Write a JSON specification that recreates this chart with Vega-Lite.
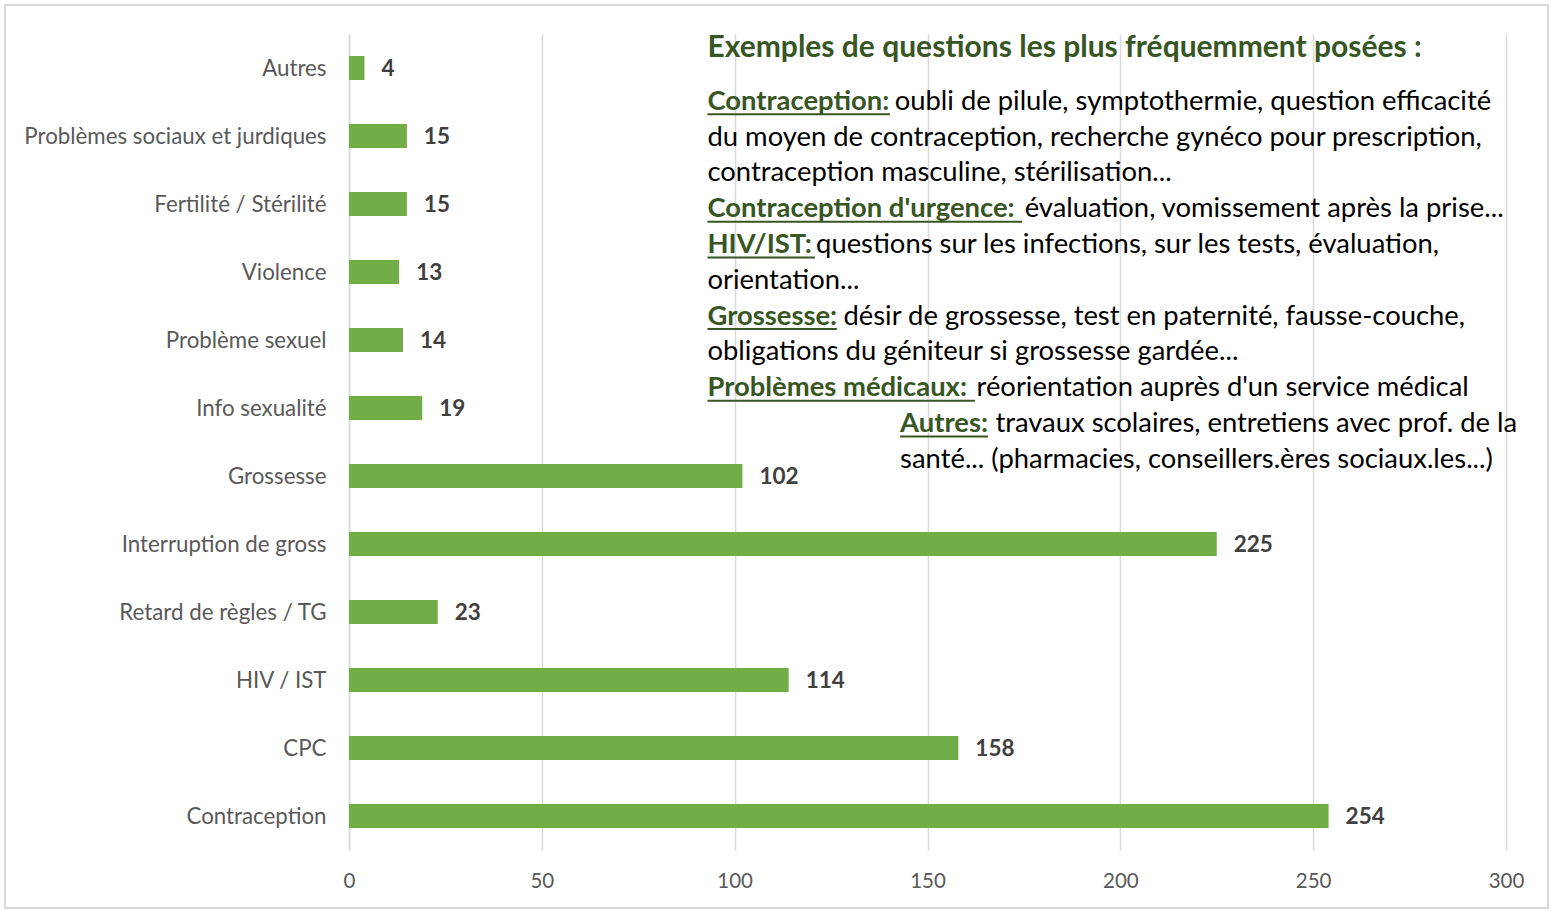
{
  "$schema": "https://vega.github.io/schema/vega-lite/v6.json",
  "width": 1157,
  "height": 816,
  "autosize": {"type": "none"},
  "padding": {"left": 349, "top": 34, "right": 45, "bottom": 61},
  "background": "white",
  "config": {"view": {"stroke": null}, "font": "Lato"},
  "datasets": {
    "bars": [
      {"cat": "Autres", "n": 4},
      {"cat": "Problèmes sociaux et jurdiques", "n": 15},
      {"cat": "Fertilité / Stérilité\u2002", "n": 15},
      {"cat": "Violence", "n": 13},
      {"cat": "Problème sexuel", "n": 14},
      {"cat": "Info sexualité", "n": 19},
      {"cat": "Grossesse", "n": 102},
      {"cat": "Interruption de gross", "n": 225},
      {"cat": "Retard de règles / TG", "n": 23},
      {"cat": "HIV / IST", "n": 114},
      {"cat": "CPC", "n": 158},
      {"cat": "Contraception", "n": 254}
    ],
    "notes": [
      {"row": 0, "x": 92.95, "kind": "title", "text": "Exemples de questions les plus fréquemment posées :"},
      {"row": 1.5, "x": 92.95, "kind": "bold", "text": "Contraception:"},
      {"row": 1.5, "x": 141.5, "kind": "normal", "text": "oubli de pilule, symptothermie, question efficacité"},
      {"row": 2.5, "x": 92.95, "kind": "normal", "text": "du moyen de contraception, recherche gynéco pour prescription,"},
      {"row": 3.5, "x": 92.95, "kind": "normal", "text": "contraception masculine, stérilisation..."},
      {"row": 4.5, "x": 92.95, "kind": "bold", "text": "Contraception d'urgence:"},
      {"row": 4.5, "x": 175.2, "kind": "normal", "text": "évaluation, vomissement après la prise..."},
      {"row": 5.5, "x": 92.95, "kind": "bold", "text": "HIV/IST:"},
      {"row": 5.5, "x": 121.1, "kind": "normal", "text": "questions sur les infections, sur les tests, évaluation,"},
      {"row": 6.5, "x": 92.95, "kind": "normal", "text": "orientation..."},
      {"row": 7.5, "x": 92.95, "kind": "bold", "text": "Grossesse:"},
      {"row": 7.5, "x": 128.2, "kind": "normal", "text": "désir de grossesse, test en paternité, fausse-couche,"},
      {"row": 8.5, "x": 92.95, "kind": "normal", "text": "obligations du géniteur si grossesse gardée..."},
      {"row": 9.5, "x": 92.95, "kind": "bold", "text": "Problèmes médicaux:"},
      {"row": 9.5, "x": 162.7, "kind": "normal", "text": "réorientation auprès d'un service médical"},
      {"row": 10.5, "x": 142.9, "kind": "bold", "text": "Autres:"},
      {"row": 10.5, "x": 167.6, "kind": "normal", "text": "travaux scolaires, entretiens avec prof. de la"},
      {"row": 11.5, "x": 142.9, "kind": "normal", "text": "santé... (pharmacies, conseillers.ères sociaux.les...)"}
    ],
    "underlines": [
      {"row": 1.85, "x": 92.95, "x2": 140.3},
      {"row": 4.85, "x": 92.95, "x2": 174.5},
      {"row": 5.85, "x": 92.95, "x2": 120.8},
      {"row": 7.85, "x": 92.95, "x2": 126.5},
      {"row": 9.85, "x": 92.95, "x2": 162.3},
      {"row": 10.85, "x": 142.9, "x2": 165.7}
    ],
    "frame": [
      {"x": -89.2, "x2": 310.9, "row": -1.2, "row2": 24.02}
    ]
  },
  "layer": [
    {
      "data": {"name": "bars"},
      "mark": {"type": "bar", "color": "#70AD47"},
      "encoding": {
        "y": {
          "field": "cat", "type": "nominal", "sort": null,
          "scale": {"paddingInner": 0.647, "paddingOuter": 0.3235},
          "axis": {
            "title": null, "domain": true, "domainColor": "#d9d9d9", "domainWidth": 1.5,
            "ticks": false, "grid": false, "labelFontSize": 22.3, "labelColor": "#595959",
            "labelPadding": 23, "labelLimit": 500, "labelOffset": 1
          }
        },
        "x": {
          "field": "n", "type": "quantitative", "title": null,
          "scale": {"domain": [0, 300], "nice": false},
          "axis": {
            "values": [0, 50, 100, 150, 200, 250, 300],
            "title": null, "grid": true, "gridColor": "#d9d9d9", "gridWidth": 1.5,
            "domain": false, "ticks": false, "labelFontSize": 20.5, "labelColor": "#595959",
            "labelPadding": 21, "labelFlush": false
          }
        }
      }
    },
    {
      "data": {"name": "bars"},
      "mark": {"type": "text", "align": "left", "baseline": "middle", "dx": 17, "dy": 1, "fontWeight": "bold", "fontSize": 22.5, "color": "#404040"},
      "encoding": {
        "y": {"field": "cat", "type": "nominal", "sort": null, "scale": {"paddingInner": 0.647, "paddingOuter": 0.3235}, "axis": null},
        "x": {"field": "n", "type": "quantitative", "title": null},
        "text": {"field": "n", "type": "quantitative"}
      }
    },
    {
      "data": {"name": "frame"},
      "mark": {"type": "rect", "fill": null, "stroke": "#d9d9d9", "strokeWidth": 2},
      "encoding": {
        "y": {"field": "row", "type": "quantitative", "scale": {"domain": [-0.391, 22.4], "reverse": true, "nice": false, "zero": false}, "axis": null},
        "y2": {"field": "row2"},
        "x": {"field": "x", "type": "quantitative", "title": null},
        "x2": {"field": "x2"}
      }
    },
    {
      "data": {"name": "underlines"},
      "mark": {"type": "rule", "color": "#375623", "strokeWidth": 2},
      "encoding": {
        "y": {"field": "row", "type": "quantitative", "scale": {"domain": [-0.391, 22.4], "reverse": true, "nice": false, "zero": false}, "axis": null},
        "x": {"field": "x", "type": "quantitative", "title": null},
        "x2": {"field": "x2"}
      }
    },
    {
      "data": {"name": "notes"},
      "transform": [{"filter": "datum.kind === 'title'"}],
      "mark": {"type": "text", "align": "left", "baseline": "middle", "fontWeight": "bold", "fontSize": 30, "color": "#375623"},
      "encoding": {
        "y": {"field": "row", "type": "quantitative", "scale": {"domain": [-0.391, 22.4], "reverse": true, "nice": false, "zero": false}, "axis": null},
        "x": {"field": "x", "type": "quantitative", "title": null},
        "text": {"field": "text"}
      }
    },
    {
      "data": {"name": "notes"},
      "transform": [{"filter": "datum.kind === 'bold'"}],
      "mark": {"type": "text", "align": "left", "baseline": "middle", "fontWeight": "bold", "fontSize": 27.4, "color": "#375623"},
      "encoding": {
        "y": {"field": "row", "type": "quantitative", "scale": {"domain": [-0.391, 22.4], "reverse": true, "nice": false, "zero": false}, "axis": null},
        "x": {"field": "x", "type": "quantitative", "title": null},
        "text": {"field": "text"}
      }
    },
    {
      "data": {"name": "notes"},
      "transform": [{"filter": "datum.kind === 'normal'"}],
      "mark": {"type": "text", "align": "left", "baseline": "middle", "fontSize": 27.4, "color": "#000000"},
      "encoding": {
        "y": {"field": "row", "type": "quantitative", "scale": {"domain": [-0.391, 22.4], "reverse": true, "nice": false, "zero": false}, "axis": null},
        "x": {"field": "x", "type": "quantitative", "title": null},
        "text": {"field": "text"}
      }
    }
  ],
  "resolve": {"scale": {"y": "independent"}}
}
